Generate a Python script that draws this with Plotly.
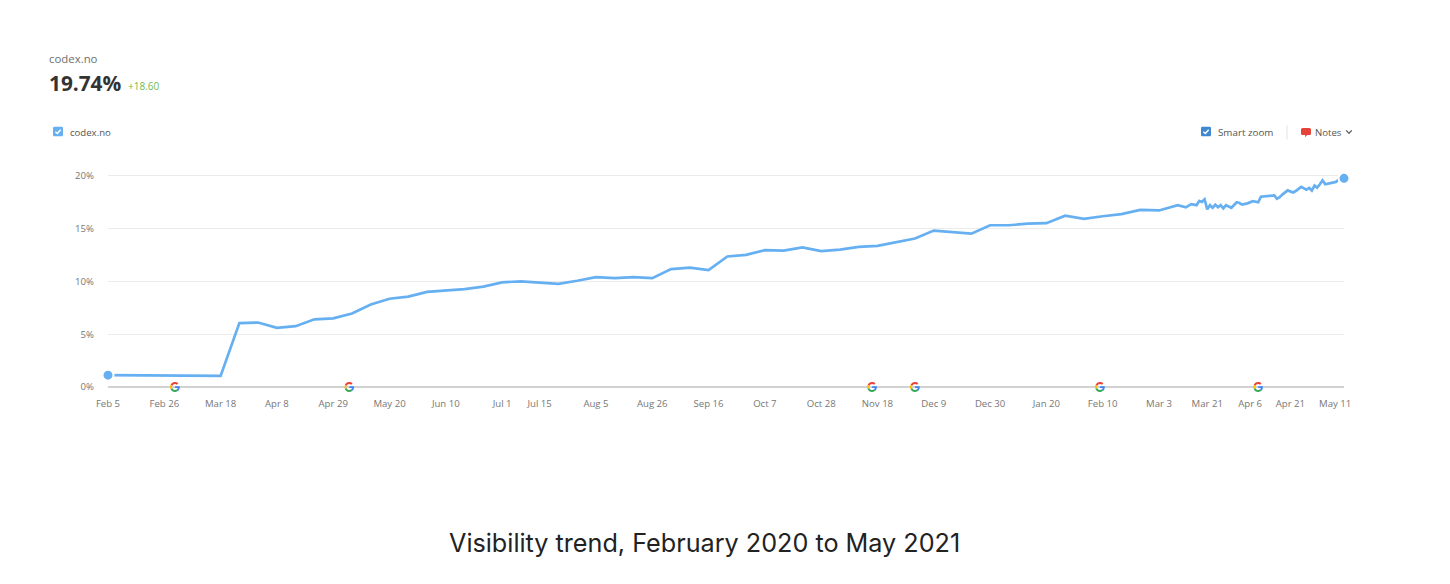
import base64
import pandas as pd
import plotly.graph_objects as go

weekly_start = "2020-02-05"
weekly_values = [1.12, 1.10, 1.08, 1.08, 1.08, 1.08, 1.05, 6.05, 6.10, 5.60, 5.75, 6.40, 6.50, 6.95,
                 7.80, 8.35, 8.55, 9.00, 9.10, 9.25, 9.50, 9.90, 10.00, 9.85, 9.75, 10.05, 10.40,
                 10.30, 10.40, 10.30, 11.15, 11.30, 11.05, 12.35, 12.50, 12.95, 12.90, 13.20, 12.85,
                 13.00, 13.25, 13.35, 13.70, 14.05, 14.80, 14.65, 14.50, 15.30, 15.30, 15.45, 15.50,
                 16.20, 15.90, 16.15, 16.35, 16.75, 16.70, 17.20]
recent_dates = ["2021-03-13", "2021-03-15", "2021-03-17", "2021-03-18", "2021-03-19", "2021-03-20",
                "2021-03-21", "2021-03-22", "2021-03-23", "2021-03-24", "2021-03-25", "2021-03-26",
                "2021-03-27", "2021-03-28", "2021-03-30", "2021-04-01", "2021-04-02", "2021-04-03",
                "2021-04-05", "2021-04-07", "2021-04-09", "2021-04-10", "2021-04-12", "2021-04-13",
                "2021-04-15", "2021-04-16", "2021-04-17", "2021-04-18", "2021-04-20", "2021-04-22",
                "2021-04-23", "2021-04-25", "2021-04-27", "2021-04-28", "2021-04-29", "2021-04-30",
                "2021-05-01", "2021-05-02", "2021-05-03", "2021-05-04", "2021-05-06", "2021-05-08",
                "2021-05-09", "2021-05-11"]
recent_values = [17.00, 17.30, 17.20, 17.60, 17.50, 17.75, 16.80, 17.20, 16.95, 17.25, 17.00, 17.20,
                 16.90, 17.20, 16.95, 17.47, 17.40, 17.25, 17.37, 17.57, 17.47, 18.00, 18.04, 18.13,
                 18.13, 17.80, 17.95, 18.20, 18.60, 18.40, 18.54, 18.93, 18.67, 18.83, 18.58, 19.05,
                 18.86, 19.18, 19.55, 19.18, 19.30, 19.40, 19.60, 19.74]
tick_dates = ["2020-02-05", "2020-02-26", "2020-03-18", "2020-04-08", "2020-04-29", "2020-05-20",
              "2020-06-10", "2020-07-01", "2020-07-15", "2020-08-05", "2020-08-26", "2020-09-16",
              "2020-10-07", "2020-10-28", "2020-11-18", "2020-12-09", "2020-12-30", "2021-01-20",
              "2021-02-10", "2021-03-03", "2021-03-21", "2021-04-06", "2021-04-21"]
tick_labels = ["Feb 5", "Feb 26", "Mar 18", "Apr 8", "Apr 29", "May 20", "Jun 10", "Jul 1", "Jul 15",
               "Aug 5", "Aug 26", "Sep 16", "Oct 7", "Oct 28", "Nov 18", "Dec 9", "Dec 30", "Jan 20",
               "Feb 10", "Mar 3", "Mar 21", "Apr 6", "Apr 21"]
google_updates = ["2020-03-01", "2020-05-05", "2020-11-16", "2020-12-02", "2021-02-09", "2021-04-09"]

PL, PR, PB = 108, 1344, 387
Y_MAX = 21
PT = PB - 10.55 * Y_MAX
LINE = "#66b0f2"


def fx(x):
    return (x - PL) / (PR - PL)


def fy(y):
    return (PB - y) / (PB - PT)


def svg(s):
    return "data:image/svg+xml;base64," + base64.b64encode(s.encode()).decode()


def checkbox(color):
    return svg(f'<svg xmlns="http://www.w3.org/2000/svg" viewBox="0 0 10 10"><rect width="10" height="10" rx="1.5" fill="{color}"/>'
               '<path d="M2.4 5.2 L4.3 7 L7.7 3.2" fill="none" stroke="white" stroke-width="1.5"/></svg>')


G_ICON = svg('<svg xmlns="http://www.w3.org/2000/svg" viewBox="0 0 48 48">'
             '<path fill="#EA4335" d="M24 9.5c3.5 0 6.7 1.2 9.2 3.6l6.9-6.9C35.9 2.4 30.5 0 24 0 14.6 0 6.5 5.4 2.6 13.2l8 6.2C12.5 13.7 17.8 9.5 24 9.5z"/>'
             '<path fill="#4285F4" d="M47 24.5c0-1.6-.1-3.1-.4-4.5H24v9h12.9c-.6 3-2.2 5.5-4.7 7.2l7.7 6c4.5-4.2 7.1-10.3 7.1-17.7z"/>'
             '<path fill="#FBBC05" d="M10.5 28.6c-.5-1.4-.8-3-.8-4.6s.3-3.2.8-4.6l-8-6.2C.9 16.4 0 20.1 0 24s.9 7.6 2.6 10.8l7.9-6.2z"/>'
             '<path fill="#34A853" d="M24 48c6.5 0 11.9-2.1 15.9-5.8l-7.7-6c-2.2 1.5-4.9 2.3-8.2 2.3-6.2 0-11.5-4.2-13.4-9.9l-8 6.2C6.5 42.6 14.6 48 24 48z"/></svg>')
NOTE_ICON = svg('<svg xmlns="http://www.w3.org/2000/svg" viewBox="0 0 10 10"><path fill="#e5443a" d="M1.5 0.5h7a1.5 1.5 0 0 1 1.5 1.5v4a1.5 1.5 0 0 1-1.5 1.5h-2.3l-2 2.3v-2.3h-2.7a1.5 1.5 0 0 1-1.5-1.5v-4a1.5 1.5 0 0 1 1.5-1.5z"/></svg>')
CHEVRON = svg('<svg xmlns="http://www.w3.org/2000/svg" viewBox="0 0 10 10"><path d="M1.5 3 L5 6.8 L8.5 3" fill="none" stroke="#555" stroke-width="1.5"/></svg>')

weekly_dates = pd.date_range(weekly_start, periods=len(weekly_values), freq="7D").strftime("%Y-%m-%d").tolist()
dates = weekly_dates + recent_dates
values = weekly_values + recent_values

fig = go.Figure()
fig.add_trace(go.Scatter(x=dates, y=values, mode="lines", line=dict(color=LINE, width=2.7, shape="linear"),
                         hoverinfo="x+y", showlegend=False, cliponaxis=False))
fig.add_trace(go.Scatter(x=[dates[0], dates[-1]], y=[values[0], values[-1]], mode="markers",
                         marker=dict(color=LINE, size=11, line=dict(color="white", width=2)),
                         showlegend=False, cliponaxis=False))


def text(x, y, s, size=10, color="#666666", anchor="left", family="Open Sans", **kw):
    return dict(xref="paper", yref="paper", x=fx(x), y=fy(y), text=s, showarrow=False, xanchor=anchor,
                yanchor="middle", font=dict(family=family, size=size, color=color), borderpad=0, **kw)


annotations = [
    text(48, 59, "codex.no", 11.4, "#707070"),
    text(48, 83.5, "<b>19.74%</b>", 20.8, "#333333"),
    text(127, 87, "+18.60", 10, "#6fba4f"),
    text(69, 133.2, "codex.no", 9.6, "#555555"),
    text(1217, 133.2, "Smart zoom", 9.8, "#555555"),
    text(1314, 133.2, "Notes", 9.6, "#555555"),
    text(704, 543, "Visibility trend, February 2020 to May 2021", 25.2, "#222222", "center", "Inter"),
    text(1335, 403, "May 11", 9.6, "#777777", "center"),
]


def icon(src, x, y, w, h):
    return dict(source=src, xref="paper", yref="paper", x=fx(x), y=fy(y), sizex=w / (PR - PL), sizey=h / (PB - PT),
                xanchor="left", yanchor="top", sizing="stretch", layer="above")


images = [icon(checkbox("#66b0f2"), 53, 127, 10, 10),
          icon(checkbox("#3f87d0"), 1201, 127, 10, 10),
          icon(NOTE_ICON, 1301, 128, 10, 10),
          icon(CHEVRON, 1345, 128.5, 8, 8)]
for d in google_updates:
    images.append(dict(source=G_ICON, xref="x", yref="paper", x=d, y=fy(387), sizex=10 * 86400000 / 2.681,
                       sizey=10 / (PB - PT), xanchor="center", yanchor="middle", sizing="contain", layer="above"))

fig.update_layout(
    width=1450, height=584, autosize=False,
    margin=dict(l=PL, r=1450 - PR, t=PT, b=584 - PB, pad=0),
    paper_bgcolor="white", plot_bgcolor="white",
    font=dict(family="Open Sans", size=9.6, color="#777777"),
    annotations=annotations, images=images,
    shapes=[dict(type="line", xref="paper", yref="paper", x0=fx(1287), x1=fx(1287), y0=fy(126), y1=fy(140),
                 line=dict(color="#e2e2e2", width=1))],
    xaxis=dict(type="date", range=[weekly_start, recent_dates[-1]], tickvals=tick_dates, ticktext=tick_labels,
               showgrid=False, zeroline=False, showline=False, ticks="", ticklabelstandoff=9,
               tickfont=dict(size=9.6, color="#777777")),
    yaxis=dict(range=[0, Y_MAX], tickvals=[0, 5, 10, 15, 20], ticktext=["0%", "5%", "10%", "15%", "20%"],
               showgrid=True, gridcolor="#ebebeb", gridwidth=1, zeroline=True, zerolinecolor="#d2d2d2",
               zerolinewidth=1.5, showline=False, ticks="", ticklabelstandoff=13,
               tickfont=dict(size=9.6, color="#777777")),
)
fig.write_html("out.html", post_script="document.body.style.margin='0';", config=dict(displayModeBar=False))
